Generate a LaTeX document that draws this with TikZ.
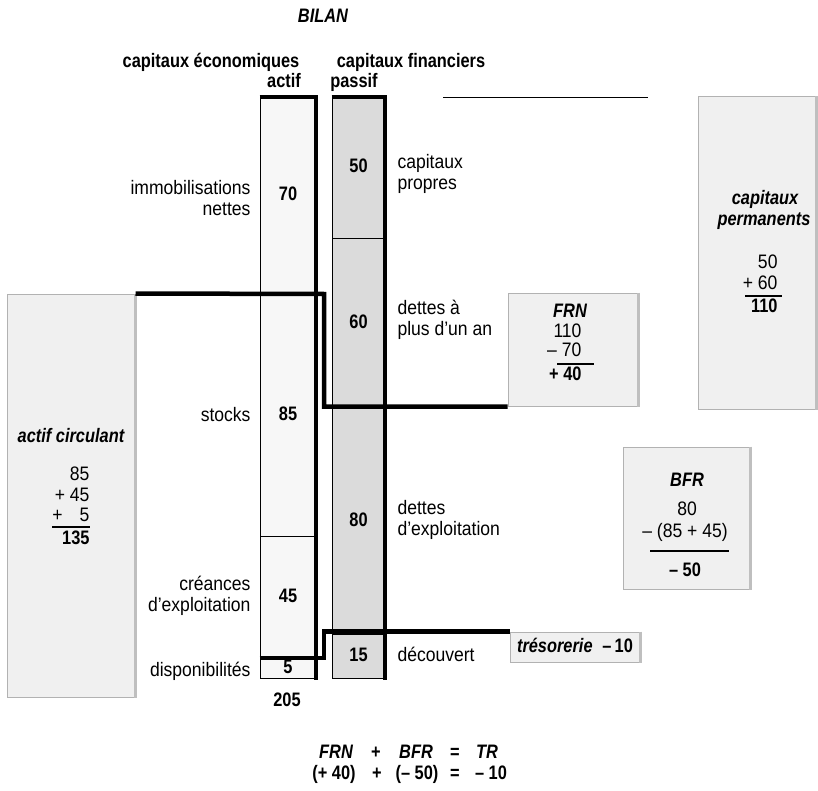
\documentclass[tikz,border=0pt]{standalone}
\usepackage{fontspec}
\setmainfont{Liberation Sans}[FakeStretch=0.9,
  BoldFeatures={FakeStretch=0.84}, BoldItalicFeatures={FakeStretch=0.84}]
\usetikzlibrary{positioning}

\begin{document}
\begin{tikzpicture}[x=1pt, y=-1pt, line width=1pt,
    font=\fontsize{19.5}{21.5}\selectfont,
    lab/.style={inner sep=0pt, text height=14pt, text depth=4pt},
    rlab/.style={inner sep=0pt, align=right, anchor=east},
    llab/.style={inner sep=0pt, align=left, anchor=west},
    num/.style={lab, font=\fontsize{19.5}{21.5}\selectfont\bfseries},
    ttl/.style={lab, font=\fontsize{19.5}{21.5}\selectfont\bfseries\itshape},
    box/.style={draw=gray!60, fill=gray!12, inner sep=0pt},
    heavy/.style={line width=4.5pt, line join=miter},
    rule/.style={line width=1.2pt}]
    \useasboundingbox (0,0) rectangle (818,791);
    \node[box, minimum width=128pt, minimum height=403pt] (ac) at (71,495.5) {};
    \node[box, minimum width=130pt, minimum height=113pt] (frn) at (573,349.5) {};
    \node[box, minimum width=118pt, minimum height=312pt] (cp) at (757,253) {};
    \node[box, minimum width=127pt, minimum height=142pt] (bfr) at (686.5,518) {};
    \node[box, minimum width=130pt, minimum height=30pt] (tres) at (575,647) {};
    \foreach \b in {ac,frn,cp,bfr,tres}
      \draw[gray!50, line width=2.5pt] (\b.north east) -- (\b.south east);
    \foreach \t/\b/\v/\n in {97/294/70/a1,294/536/85/a2,536/658/45/a3,658/678/5/a4} {
      \draw[fill=gray!6] (260,\t) rectangle (316,\b);
      \node[num] (\n) at (288,{(\t+\b)/2}) {\v};
    }
    \foreach \t/\b/\v/\n in {97/239/50/p1,239/408/60/p2,408/634/80/p3,634/678/15/p4} {
      \draw[fill=gray!28] (332,\t) rectangle (385,\b);
      \node[num] (\n) at (358.5,{(\t+\b)/2}) {\v};
    }
    \draw[heavy] (259.5,97) -- (316,97) -- (316,680);
    \draw[heavy] (331.5,97) -- (385,97) -- (385,680);
    \draw[line width=0.8pt] (443,97) -- (648,97);
    \coordinate (k1) at (324,294);
    \coordinate (k2) at (259.5,658);
    \draw[heavy] (ac.north east) -- (k1) |- (frn.south west);
    \draw[heavy] (k2) -- (324,658) |- (tres.north west);
    \node[ttl] (bilan) at (323,18) {BILAN};
    \node[num] (ceco) at (211,63) {capitaux économiques};
    \node[num] (cfin) at (411,63) {capitaux financiers};
    \node[num] (actif) at (284,83) {actif};
    \node[num] (passif) at (354,83) {passif};
    \node[rlab] (immo) at (251,198) {immobilisations\\nettes};
    \node[lab, anchor=east] (stocks) at (251,416) {stocks};
    \node[rlab] (crea) at (251,596) {créances\\d’exploitation};
    \node[lab, anchor=east] (dispo) at (251,671) {disponibilités};
    \node[llab] (cpro) at (397,174) {capitaux\\propres};
    \node[llab] (dla) at (397,320) {dettes à\\plus d’un an};
    \node[llab] (dexp) at (397,520) {dettes\\d’exploitation};
    \node[lab, anchor=west] (dec) at (397,656) {découvert};
    \node[num] (tot) at (287,701) {205};
    \node[ttl] (frnt) at (570,312) {FRN};
    \node[lab, anchor=east] (frn1) at (582,332) {110};
    \node[lab, anchor=east] (frn2) at (582,351) {–\hspace{5pt}70};
    \draw[rule] (557,364) -- (594,364);
    \node[num, anchor=east] (frn3) at (582,375) {+ 40};
    \node[ttl] (cpt1) at (765,200) {capitaux};
    \node[ttl] (cpt2) at (764,221) {permanents};
    \node[lab, anchor=east] (cp1) at (778,264) {50};
    \node[lab, anchor=east] (cp2) at (778,284) {+ 60};
    \draw[rule] (745,296) -- (782,296);
    \node[num, anchor=east] (cp3) at (778,307) {110};
    \node[ttl] (bfrt) at (687,481) {BFR};
    \node[lab] (bfr1) at (687,510) {80};
    \node[lab] (bfr2) at (685,532) {– (85 + 45)};
    \draw[rule] (650,551) -- (729,551);
    \node[num] (bfr3) at (685,571) {– 50};
    \node[ttl] (act) at (71,437) {actif circulant};
    \node[lab, anchor=east] (ac1) at (90,475) {85};
    \node[lab, anchor=east] (ac2) at (90,496) {+ 45};
    \node[lab, anchor=east] (ac3) at (90,516) {+\hspace{17pt}5};
    \draw[rule] (52,527) -- (90,527);
    \node[num, anchor=east] (ac4) at (90,539) {135};
    \node[lab] (trest) at (575,647) {\bfseries\itshape trésorerie\enspace\upshape –\,10};
    \foreach \x/\t/\n in {336/FRN/e1,416/BFR/e3,487/TR/e5}
      \node[ttl] (\n) at (\x,753) {\t};
    \foreach \x/\t/\n in {376/+/e2,455/=/e4}
      \node[num] (\n) at (\x,753) {\t};
    \foreach \x/\t/\n in {334/{(+ 40)}/f1,377/+/f2,417/{(– 50)}/f3,455/=/f4,491/{– 10}/f5}
      \node[num] (\n) at (\x,774) {\t};
  \end{tikzpicture}
\end{document}
